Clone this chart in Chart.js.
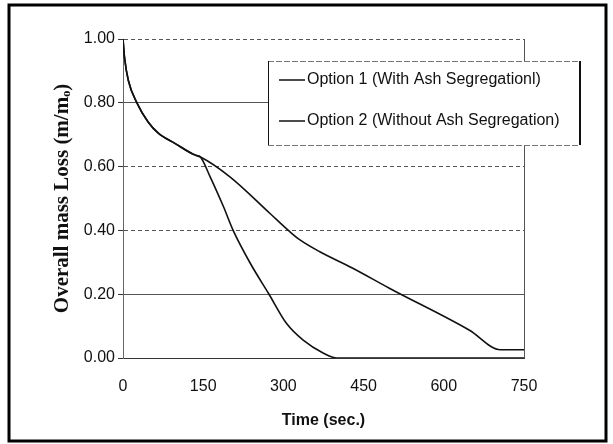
<!DOCTYPE html>
<html>
<head>
<meta charset="utf-8">
<script src="https://cdn.jsdelivr.net/npm/chart.js@4.4.1/dist/chart.umd.min.js"></script>
<style>
  html, body { margin: 0; padding: 0; background: #fff; }
  #wrap { width: 613px; height: 444px; }
</style>
</head>
<body>
<div id="wrap"><canvas id="massChart" width="613" height="444"></canvas></div>
<script>
// shared part of both runs (up to about 145 s)
const sharedTime = [0, 3, 10, 26, 47, 66, 97, 135, 144];
const sharedMass = [1.00, 0.94, 0.87, 0.80, 0.74, 0.705, 0.673, 0.636, 0.631];

// Option 1 after split
const opt1Time = [163, 188, 206, 238, 272, 306, 337, 375, 400, 750];
const opt1Mass = [0.568, 0.474, 0.40, 0.297, 0.203, 0.108, 0.056, 0.015, 0.0, 0.0];

// Option 2 after split
const opt2Time = [200, 275, 312, 331, 368, 428, 499, 648, 706, 750];
const opt2Mass = [0.568, 0.453, 0.396, 0.37, 0.333, 0.283, 0.218, 0.087, 0.026, 0.026];

const xTicks = [0, 150, 300, 450, 600, 750];
const seriesNames = ['Option 1 (With Ash Segregationl)', 'Option 2 (Without Ash Segregation)'];

function toPoints(t, m) {
    return t.map(function(x, i) { return { x: x, y: m[i] }; });
}

const sansFont = '"Liberation Sans", Arial, sans-serif';
const serifFont = '"Liberation Serif", "Times New Roman", serif';

// outer frame + boxed legend like the original figure
const framePlugin = {
    id: 'frame',
    afterDraw: function(chart) {
        const c = chart.ctx;
        c.save();
        // legend box
        const lx = 268, ly = 61, lw = 312, lh = 84;
        c.fillStyle = '#fff';
        c.fillRect(lx, ly, lw, lh);
        c.strokeStyle = '#777';
        c.lineWidth = 1;
        c.setLineDash([6, 2]);
        c.beginPath();
        c.moveTo(lx, ly + 0.5); c.lineTo(lx + lw, ly + 0.5);
        c.moveTo(lx, ly + lh + 0.5); c.lineTo(lx + lw, ly + lh + 0.5);
        c.stroke();
        c.setLineDash([]);
        c.strokeStyle = '#111';
        c.beginPath();
        c.moveTo(lx + 0.5, ly); c.lineTo(lx + 0.5, ly + lh);
        c.stroke();
        c.lineWidth = 2;
        c.beginPath();
        c.moveTo(lx + lw, ly); c.lineTo(lx + lw, ly + lh);
        c.stroke();

        c.font = '16px ' + sansFont;
        c.fillStyle = '#111';
        c.textBaseline = 'middle';
        chart.data.datasets.forEach(function(ds, i) {
            const yy = ly + 19 + i * 41;
            c.strokeStyle = ds.borderColor;
            c.lineWidth = 1.5;
            c.beginPath();
            c.moveTo(279, yy); c.lineTo(305, yy);
            c.stroke();
            c.fillText(ds.label, 307, yy);
        });

        // outer frame
        c.strokeStyle = '#000';
        c.lineWidth = 3;
        c.strokeRect(9, 5, 597, 436);
        c.restore();
    }
};

new Chart(document.getElementById('massChart'), {
    type: 'line',
    data: {
        datasets: [{
            label: seriesNames[0],
            data: toPoints(sharedTime.concat(opt1Time), sharedMass.concat(opt1Mass)),
            borderColor: '#111',
            borderWidth: 1.6,
            pointRadius: 0,
            cubicInterpolationMode: 'monotone',
            fill: false
        }, {
            label: seriesNames[1],
            data: toPoints(sharedTime.concat(opt2Time), sharedMass.concat(opt2Mass)),
            borderColor: '#111',
            borderWidth: 1.6,
            pointRadius: 0,
            cubicInterpolationMode: 'monotone',
            fill: false
        }]
    },
    options: {
        responsive: false,
        animation: false,
        layout: {
            padding: { left: 10, right: 89, top: 39, bottom: 0 }
        },
        plugins: {
            legend: { display: false },
            tooltip: { enabled: false }
        },
        scales: {
            x: {
                type: 'linear',
                min: 0,
                max: 750,
                afterBuildTicks: function(scale) {
                    scale.ticks = xTicks.map(function(v) { return { value: v }; });
                },
                afterFit: function(scale) { scale.height = 86; },
                ticks: {
                    color: '#111',
                    padding: 19,
                    font: { family: sansFont, size: 16 }
                },
                grid: {
                    drawTicks: false,
                    color: function(ctx) { return ctx.tick && ctx.tick.value === 750 ? '#555' : 'rgba(0,0,0,0)'; },
                    lineWidth: 1
                },
                border: { color: '#333', width: 1 },
                title: {
                    display: true,
                    text: 'Time (sec.)',
                    color: '#111',
                    font: { family: sansFont, size: 16, weight: 'bold' },
                    padding: { top: 0, bottom: 14 }
                }
            },
            y: {
                min: 0,
                max: 1,
                afterFit: function(scale) { scale.width = 113; },
                ticks: {
                    stepSize: 0.2,
                    color: '#111',
                    padding: 3,
                    font: { family: sansFont, size: 16 },
                    callback: function(v) { return v.toFixed(2); }
                },
                grid: {
                    color: '#555',
                    lineWidth: 1,
                    tickLength: 5,
                    tickColor: '#333'
                },
                border: {
                    color: '#666',
                    dash: function(ctx) {
                        if (!ctx.tick) return [2, 2];
                        const k = Math.round(ctx.tick.value * 10);
                        return (k === 2 || k === 8 || k === 0) ? [] : [4, 3];
                    }
                },
                title: {
                    display: true,
                    text: 'Overall mass Loss (m/mₒ)',
                    color: '#111',
                    font: { family: serifFont, size: 21, weight: 'bold' },
                    padding: { top: 40, bottom: 0 }
                }
            }
        }
    },
    plugins: [framePlugin]
});
</script>
</body>
</html>
